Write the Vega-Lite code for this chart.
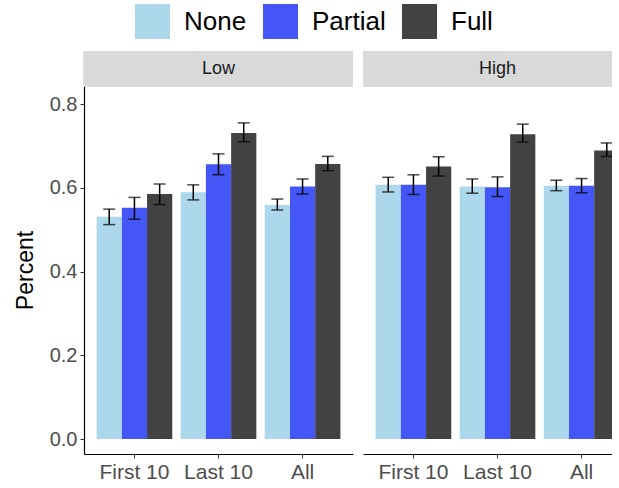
{
  "$schema": "https://vega.github.io/schema/vega-lite/v6.json",
  "padding": {"left": 14, "top": 4, "right": -20, "bottom": 0},
  "data": {"values": [
    {"level": "Low", "period": "First 10", "cond": "None", "pct": 0.531, "lo": 0.512, "hi": 0.549},
    {"level": "Low", "period": "First 10", "cond": "Partial", "pct": 0.552, "lo": 0.525, "hi": 0.577},
    {"level": "Low", "period": "First 10", "cond": "Full", "pct": 0.585, "lo": 0.560, "hi": 0.609},
    {"level": "Low", "period": "Last 10", "cond": "None", "pct": 0.589, "lo": 0.571, "hi": 0.607},
    {"level": "Low", "period": "Last 10", "cond": "Partial", "pct": 0.656, "lo": 0.631, "hi": 0.681},
    {"level": "Low", "period": "Last 10", "cond": "Full", "pct": 0.731, "lo": 0.710, "hi": 0.755},
    {"level": "Low", "period": "All", "cond": "None", "pct": 0.559, "lo": 0.547, "hi": 0.573},
    {"level": "Low", "period": "All", "cond": "Partial", "pct": 0.603, "lo": 0.585, "hi": 0.621},
    {"level": "Low", "period": "All", "cond": "Full", "pct": 0.657, "lo": 0.641, "hi": 0.675},
    {"level": "High", "period": "First 10", "cond": "None", "pct": 0.607, "lo": 0.590, "hi": 0.625},
    {"level": "High", "period": "First 10", "cond": "Partial", "pct": 0.607, "lo": 0.584, "hi": 0.631},
    {"level": "High", "period": "First 10", "cond": "Full", "pct": 0.651, "lo": 0.628, "hi": 0.674},
    {"level": "High", "period": "Last 10", "cond": "None", "pct": 0.603, "lo": 0.587, "hi": 0.621},
    {"level": "High", "period": "Last 10", "cond": "Partial", "pct": 0.601, "lo": 0.579, "hi": 0.626},
    {"level": "High", "period": "Last 10", "cond": "Full", "pct": 0.728, "lo": 0.709, "hi": 0.752},
    {"level": "High", "period": "All", "cond": "None", "pct": 0.605, "lo": 0.593, "hi": 0.618},
    {"level": "High", "period": "All", "cond": "Partial", "pct": 0.605, "lo": 0.588, "hi": 0.622},
    {"level": "High", "period": "All", "cond": "Full", "pct": 0.689, "lo": 0.675, "hi": 0.707}
  ]},
  "facet": {
    "column": {"field": "level", "type": "nominal", "sort": ["Low", "High"], "header": {"title": null, "labels": false}}
  },
  "spacing": 10,
  "spec": {
    "width": 269,
    "height": 403,
    "layer": [
      {
        "mark": {"type": "bar"},
        "encoding": {
          "x": {"field": "period", "type": "nominal", "sort": ["First 10", "Last 10", "All"],
                "scale": {"paddingInner": 0.1, "paddingOuter": 0.15},
                "axis": {"title": null, "labelFontSize": 21, "labelColor": "#4d4d4d", "labelFont": "Liberation Sans", "tickColor": "#333333", "tickSize": 4, "domainColor": "black", "domainWidth": 1.2, "labelAngle": 0, "labelPadding": 3}},
          "xOffset": {"field": "cond", "type": "nominal", "sort": ["None", "Partial", "Full"], "scale": {"paddingInner": 0, "paddingOuter": 0}},
          "y": {"field": "pct", "type": "quantitative", "title": "Percent",
                "scale": {"domain": [-0.0358, 0.9266], "nice": false, "zero": false},
                "axis": {"values": [0, 0.2, 0.4, 0.6, 0.8], "format": ".1f", "grid": false, "labelFontSize": 20, "labelColor": "#4d4d4d", "labelFont": "Liberation Sans", "tickColor": "#333333", "tickSize": 4, "domainColor": "black", "domainWidth": 1.2, "labelPadding": 3, "titleFontSize": 23, "titleFont": "Liberation Sans", "titleFontWeight": "normal", "titleColor": "black", "titlePadding": 12, "titleY": 219}},
          "color": {"field": "cond", "type": "nominal", "sort": ["None", "Partial", "Full"],
                    "scale": {"domain": ["None", "Partial", "Full"], "range": ["#add8eb", "#4456f5", "#424242"]},
                    "legend": {"orient": "none", "legendX": 51, "legendY": -47, "direction": "horizontal", "title": null, "symbolType": "square", "symbolSize": 1225, "symbolStrokeWidth": 0, "labelFontSize": 26, "labelFont": "Liberation Sans", "labelColor": "black", "labelOffset": 14, "columnPadding": 16}}
        }
      },
      {
        "mark": {"type": "rule", "color": "black", "strokeWidth": 1.5},
        "encoding": {
          "x": {"field": "period", "type": "nominal", "sort": ["First 10", "Last 10", "All"]},
          "xOffset": {"field": "cond", "type": "nominal", "sort": ["None", "Partial", "Full"]},
          "y": {"field": "lo", "type": "quantitative", "title": "Percent"},
          "y2": {"field": "hi"}
        }
      },
      {
        "mark": {"type": "tick", "color": "black", "thickness": 1.5, "size": 12, "orient": "horizontal"},
        "encoding": {
          "x": {"field": "period", "type": "nominal", "sort": ["First 10", "Last 10", "All"]},
          "xOffset": {"field": "cond", "type": "nominal", "sort": ["None", "Partial", "Full"]},
          "y": {"field": "lo", "type": "quantitative", "title": "Percent"}
        }
      },
      {
        "mark": {"type": "tick", "color": "black", "thickness": 1.5, "size": 12, "orient": "horizontal"},
        "encoding": {
          "x": {"field": "period", "type": "nominal", "sort": ["First 10", "Last 10", "All"]},
          "xOffset": {"field": "cond", "type": "nominal", "sort": ["None", "Partial", "Full"]},
          "y": {"field": "hi", "type": "quantitative", "title": "Percent"}
        }
      },
      {
        "mark": {"type": "rect", "color": "#d9d9d9"},
        "encoding": {
          "y": {"datum": 0.8423, "type": "quantitative"},
          "y2": {"datum": 0.9266}
        }
      },
      {
        "transform": [{"aggregate": [{"op": "count", "as": "n"}], "groupby": ["level"]}],
        "mark": {"type": "text", "fontSize": 18, "font": "Liberation Sans", "color": "#1a1a1a", "baseline": "middle", "align": "center"},
        "encoding": {
          "y": {"datum": 0.8845, "type": "quantitative"},
          "text": {"field": "level", "type": "nominal"}
        }
      }
    ]
  },
  "config": {
    "view": {"stroke": null},
    "font": "Liberation Sans"
  }
}
